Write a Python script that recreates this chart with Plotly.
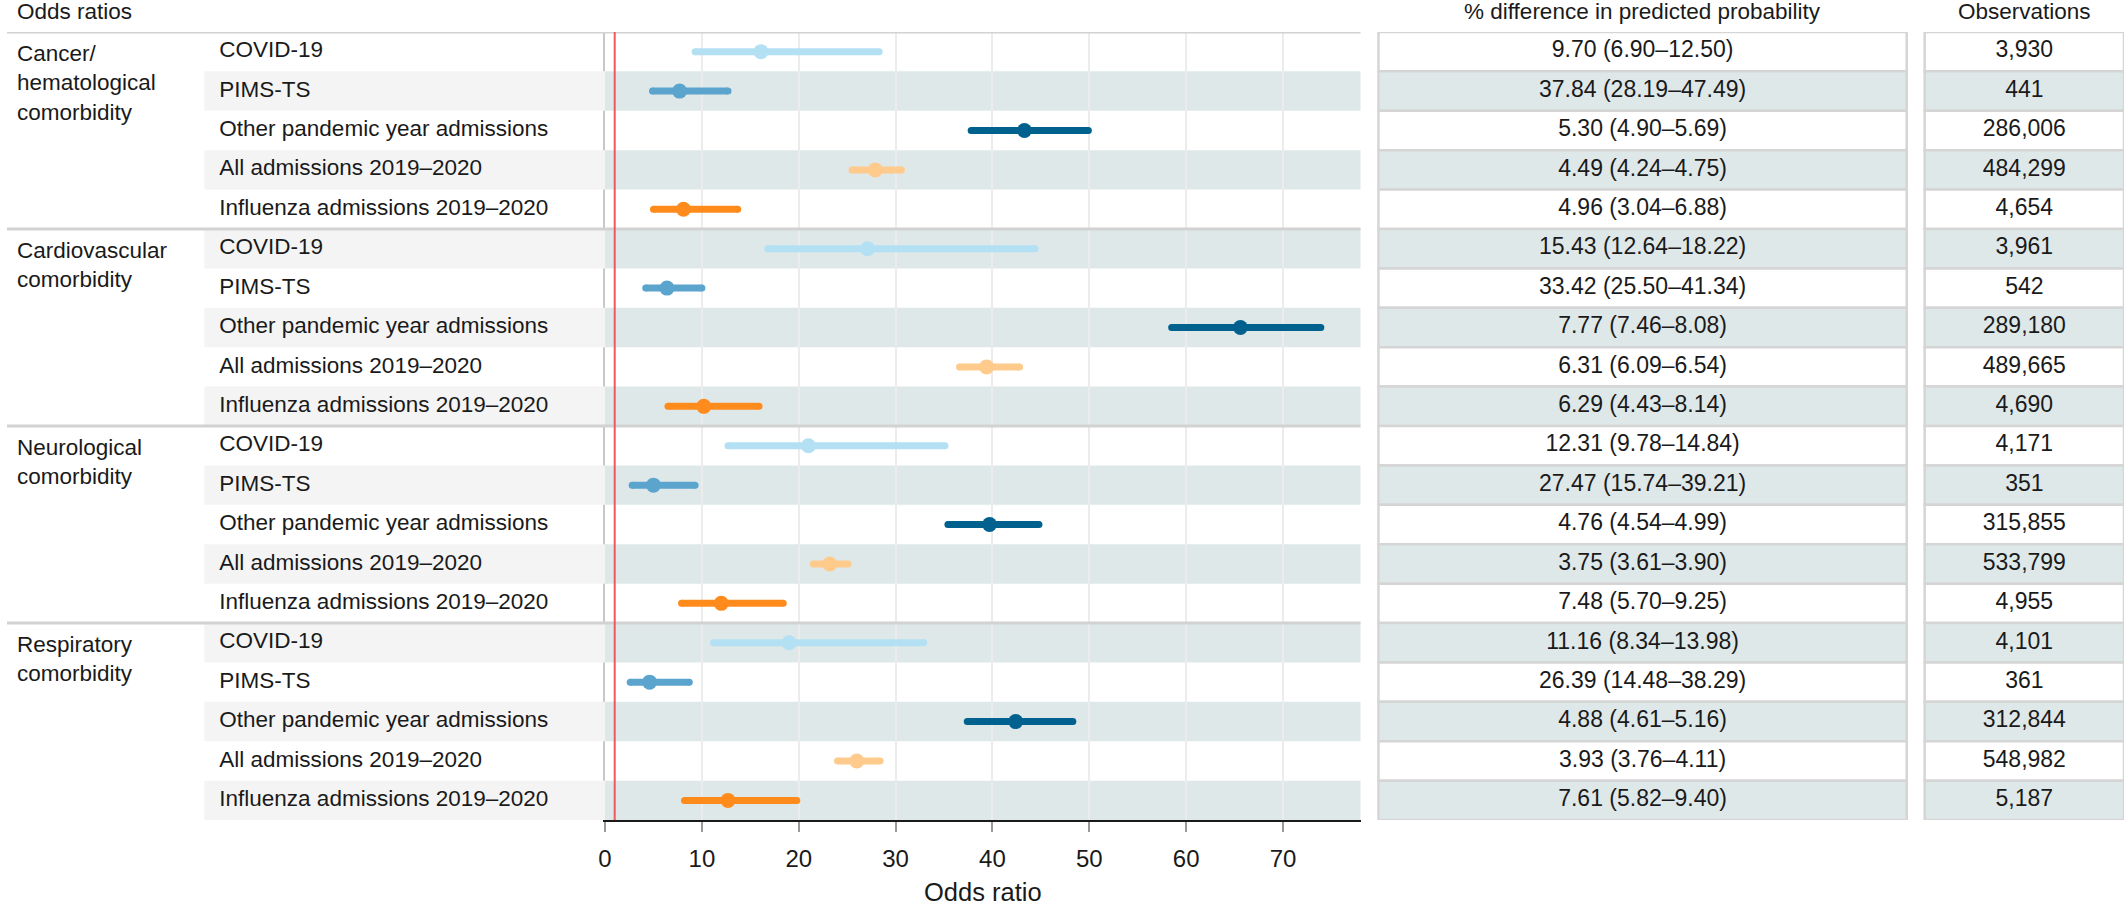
import plotly.graph_objects as go

W, H = 2124, 906

# ---------------- data ----------------
groups = ["Cancer/<br>hematological<br>comorbidity",
          "Cardiovascular<br>comorbidity",
          "Neurological<br>comorbidity",
          "Respiratory<br>comorbidity"]
series = ["COVID-19", "PIMS-TS", "Other pandemic year admissions",
          "All admissions 2019–2020", "Influenza admissions 2019–2020"]
colors = ["#b4e0f3", "#5ba4cd", "#00618f", "#fecb8d", "#ff8b1d"]

# odds ratios: one list per group, one value per series
or_point = [[16.1, 7.7, 43.3, 27.9, 8.1],
            [27.1, 6.4, 65.6, 39.4, 10.2],
            [21.0, 5.0, 39.7, 23.2, 12.0],
            [19.0, 4.6, 42.4, 26.0, 12.7]]
or_low = [[9.3, 4.9, 37.8, 25.5, 5.0],
          [16.8, 4.2, 58.5, 36.6, 6.5],
          [12.7, 2.8, 35.4, 21.5, 7.9],
          [11.2, 2.6, 37.4, 24.0, 8.2]]
or_high = [[28.3, 12.7, 49.9, 30.6, 13.7],
           [44.4, 10.0, 73.9, 42.8, 15.9],
           [35.1, 9.3, 44.8, 25.1, 18.4],
           [32.9, 8.7, 48.3, 28.4, 19.8]]

pct_est = [9.70, 37.84, 5.30, 4.49, 4.96,
           15.43, 33.42, 7.77, 6.31, 6.29,
           12.31, 27.47, 4.76, 3.75, 7.48,
           11.16, 26.39, 4.88, 3.93, 7.61]
pct_low = [6.90, 28.19, 4.90, 4.24, 3.04,
           12.64, 25.50, 7.46, 6.09, 4.43,
           9.78, 15.74, 4.54, 3.61, 5.70,
           8.34, 14.48, 4.61, 3.76, 5.82]
pct_high = [12.50, 47.49, 5.69, 4.75, 6.88,
            18.22, 41.34, 8.08, 6.54, 8.14,
            14.84, 39.21, 4.99, 3.90, 9.25,
            13.98, 38.29, 5.16, 4.11, 9.40]
observations = [3930, 441, 286006, 484299, 4654,
                3961, 542, 289180, 489665, 4690,
                4171, 351, 315855, 533799, 4955,
                4101, 361, 312844, 548982, 5187]
x_ticks = [0, 10, 20, 30, 40, 50, 60, 70]

# ---------------- helpers ----------------
def px(x):
    return x / W

def py(y):
    return 1 - y / H

FONT = "Liberation Sans, Arial, Helvetica, sans-serif"
TXT = "#1a1a1a"
BAND = "#dfe8e9"
LBAND = "#f4f4f4"
FS = 22.5

n_ser = len(series)
n_rows = len(groups) * n_ser
rows = list(range(n_rows))

fig = go.Figure()

# CI lines and points
for s in range(n_ser):
    xs, ys, pts, prow = [], [], [], []
    for g in range(len(groups)):
        r = g * n_ser + s
        xs += [or_low[g][s], or_high[g][s], None]
        ys += [r, r, None]
        pts.append(or_point[g][s])
        prow.append(r)
    fig.add_trace(go.Scatter(x=xs, y=ys, mode="lines+markers",
                             line=dict(color=colors[s], width=7),
                             marker=dict(size=7, color=colors[s]),
                             xaxis="x", yaxis="y", hoverinfo="skip",
                             showlegend=False))
    fig.add_trace(go.Scatter(x=pts, y=prow, mode="markers",
                             marker=dict(size=15, color=colors[s]),
                             xaxis="x", yaxis="y", showlegend=False,
                             name=series[s]))

# row labels
row_labels = [series[r % n_ser] for r in rows]
fig.add_trace(go.Scatter(x=[213] * n_rows, y=rows, mode="text",
                         text=row_labels, textposition="middle right",
                         textfont=dict(size=FS, color=TXT, family=FONT),
                         xaxis="x2", yaxis="y", hoverinfo="skip",
                         showlegend=False))

# table: % difference
pct_text = [f"{e:.2f} ({l:.2f}–{h:.2f})" for e, l, h in zip(pct_est, pct_low, pct_high)]
fig.add_trace(go.Scatter(x=[0.5] * n_rows, y=rows, mode="text",
                         text=pct_text, textposition="middle center",
                         textfont=dict(size=23, color=TXT, family=FONT),
                         xaxis="x3", yaxis="y", hoverinfo="skip",
                         showlegend=False))
# table: observations
obs_text = [f"{n:,}" for n in observations]
fig.add_trace(go.Scatter(x=[0.5] * n_rows, y=rows, mode="text",
                         text=obs_text, textposition="middle center",
                         textfont=dict(size=23, color=TXT, family=FONT),
                         xaxis="x4", yaxis="y", hoverinfo="skip",
                         showlegend=False))

shapes = []
for r in rows:
    shaded = (r % 2 == 1)
    if shaded:
        shapes.append(dict(type="rect", xref="x domain", x0=0, x1=1,
                           yref="y", y0=r - 0.5, y1=r + 0.5,
                           fillcolor=BAND, line=dict(width=0), layer="below"))
        shapes.append(dict(type="rect", xref="x2", x0=198, x1=600,
                           yref="y", y0=r - 0.5, y1=r + 0.5,
                           fillcolor=LBAND, line=dict(width=0), layer="below"))
    for xr in ("x3 domain", "x4 domain"):
        shapes.append(dict(type="rect", xref=xr, x0=0, x1=1,
                           yref="y", y0=r - 0.5, y1=r + 0.5,
                           fillcolor=BAND if shaded else "white",
                           line=dict(color="#d5d5d5", width=2.5), layer="below"))

for g in range(len(groups)):
    b = g * n_ser - 0.5
    shapes.append(dict(type="line", xref="paper", x0=0, x1=px(1358),
                       yref="y", y0=b, y1=b,
                       line=dict(color="#d2d2d2", width=3), layer="above"))

shapes.append(dict(type="line", xref="x", x0=1, x1=1, yref="y domain",
                   y0=0, y1=1, line=dict(color="#f0595b", width=2),
                   layer="above"))

annotations = []
for g, name in enumerate(groups):
    annotations.append(dict(text=name, xref="x2", x=8, yref="y", y=g * n_ser,
                            xanchor="left", yanchor="top", align="left",
                            yshift=13, showarrow=False,
                            font=dict(size=FS, color=TXT, family=FONT)))
annotations.append(dict(text="Odds ratios", xref="paper", x=px(8),
                        yref="paper", y=py(12), xanchor="left",
                        yanchor="middle", showarrow=False,
                        font=dict(size=FS, color=TXT, family=FONT)))
annotations.append(dict(text="% difference in predicted probability",
                        xref="x3 domain", x=0.5, yref="paper", y=py(12),
                        xanchor="center", yanchor="middle", showarrow=False,
                        font=dict(size=FS, color=TXT, family=FONT)))
annotations.append(dict(text="Observations",
                        xref="x4 domain", x=0.5, yref="paper", y=py(12),
                        xanchor="center", yanchor="middle", showarrow=False,
                        font=dict(size=FS, color=TXT, family=FONT)))

fig.update_layout(
    width=W, height=H,
    margin=dict(l=0, r=0, t=0, b=0),
    paper_bgcolor="white", plot_bgcolor="rgba(0,0,0,0)",
    font=dict(family=FONT, color=TXT),
    showlegend=False,
    shapes=shapes, annotations=annotations,
    xaxis=dict(domain=[px(600), px(1358)], range=[0, 78], anchor="y",
               tickmode="array", tickvals=x_ticks,
               showgrid=True, gridcolor="#ececec", gridwidth=2,
               ticks="outside", ticklen=10, tickwidth=2, tickcolor="#9a9a9a",
               showline=True, linecolor="#1a1a1a", linewidth=2,
               zeroline=False, ticklabelstandoff=6,
               tickfont=dict(size=24, color=TXT, family=FONT),
               title=dict(text="Odds ratio", standoff=16,
                          font=dict(size=25.5, color=TXT, family=FONT))),
    xaxis2=dict(domain=[0, px(600)], range=[0, 600], anchor="y", visible=False),
    xaxis3=dict(domain=[px(1376), px(1906)], range=[0, 1], anchor="y", visible=False),
    xaxis4=dict(domain=[px(1924), 1], range=[0, 1], anchor="y", visible=False),
    yaxis=dict(domain=[py(821), py(32)], range=[n_rows - 0.5, -0.5],
               anchor="x", showticklabels=False, showgrid=False,
               zeroline=False, ticks="", showline=True,
               linecolor="#c8c8c8", linewidth=2),
)

fig.write_html("out.html",
               config={"displayModeBar": False},
               post_script="document.body.style.margin='0px';"
                           "document.body.style.overflow='hidden';")
